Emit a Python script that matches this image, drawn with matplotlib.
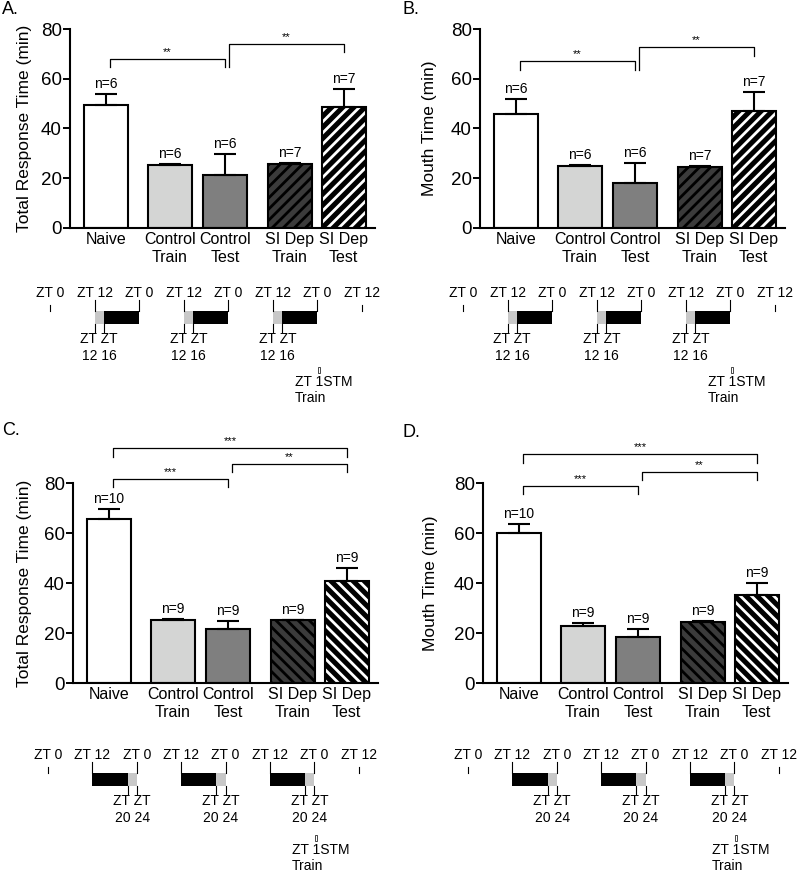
import numpy as np
import matplotlib.pyplot as plt
from matplotlib.patches import Rectangle

plt.rcParams['font.family'] = ['Liberation Sans', 'DejaVu Sans']
plt.rcParams['hatch.linewidth'] = 2.0

W, H = 800, 872

# Dados
groups = ["Naive", "Control\nTrain", "Control\nTest", "SI Dep\nTrain", "SI Dep\nTest"]
bar_pos = [0, 1.17, 2.17, 3.35, 4.33]

means_a = [49.3, 25.3, 21.5, 25.6, 48.6]
errs_a = [4.5, 0.3, 8.2, 0.4, 7.2]
means_b = [45.8, 24.9, 18.1, 24.6, 47.0]
errs_b = [5.9, 0.3, 8.0, 0.5, 7.5]
means_c = [65.6, 25.4, 21.8, 25.1, 40.8]
errs_c = [4.0, 0.3, 3.0, 0.3, 5.2]
means_d = [60.0, 22.7, 18.3, 24.3, 35.1]
errs_d = [3.7, 1.2, 3.2, 0.4, 5.0]

n_ab = ["n=6", "n=6", "n=6", "n=7", "n=7"]
n_cd = ["n=10", "n=9", "n=9", "n=9", "n=9"]

# (barra i, barra j, altura, fim esquerdo, fim direito, estrelas)
brackets_a = [(0, 2, 67.9, 64.6, 64.6, "**"), (2, 4, 73.9, 64.6, 70.7, "**")]
brackets_b = [(0, 2, 67.1, 63.5, 63.5, "**"), (2, 4, 72.7, 63.5, 69.1, "**")]
brackets_c = [(0, 2, 81.6, 78.4, 78.4, "***"), (2, 4, 87.6, 84.4, 84.4, "**"),
              (0, 4, 94.0, 90.4, 90.4, "***")]
brackets_d = [(0, 2, 78.8, 75.6, 75.6, "***"), (2, 4, 84.4, 81.2, 81.2, "**"),
              (0, 4, 91.6, 88.0, 88.0, "***")]

# Esquema temporal
zt_hours = [0, 12, 24, 36, 48, 60, 72, 84]
zt_labels = ["ZT 0", "ZT 12", "ZT 0", "ZT 12", "ZT 0", "ZT 12", "ZT 0", "ZT 12"]
dark_starts = [12, 36, 60]
light_w = 2.5   # largura desenhada do pulso (fora de escala no original)
stm_hour = 72.3

face_colors = ['white', '#d4d5d4', '#7f7f7f', '#3b3b3b', 'black']
hatch_colors = ['black', 'black', 'black', 'black', 'white']

fig = plt.figure(figsize=(W / 100, H / 100), dpi=100)


def add_ax(left, top, right, bottom):
    return fig.add_axes([left / W, 1 - bottom / H, (right - left) / W, (bottom - top) / H])


def bar_panel(ax, means, errs, ns, brackets, ylabel, hatch, lab_x):
    hatches = [None, None, None, hatch, hatch]
    for p, m, fc, hc, h in zip(bar_pos, means, face_colors, hatch_colors, hatches):
        ax.bar(p, m, 0.8, color=fc, edgecolor=hc, hatch=h, linewidth=0, zorder=2)
    ax.bar(bar_pos, means, 0.8, fill=False, edgecolor='black', linewidth=1.5, zorder=3)
    ax.errorbar(bar_pos, means, yerr=[np.zeros(5), errs], fmt='none', ecolor='black',
                elinewidth=1.5, capsize=8, capthick=1.5, zorder=4)
    for p, m, e, n in zip(bar_pos, means, errs, ns):
        ax.text(p, m + e + 1.2, n, ha='center', va='bottom', fontsize=10)
    for i, j, hgt, l0, r0, st in brackets:
        x1, x2 = bar_pos[i] + 0.08, bar_pos[j]
        ax.plot([x1, x1, x2, x2], [l0, hgt, hgt, r0], color='black', lw=0.9,
                clip_on=False, zorder=5)
        ax.text((x1 + x2) / 2, hgt + 0.8, st, ha='center', va='bottom', fontsize=8)
    ax.set_xlim(-0.65, 4.9)
    ax.set_ylim(0, 80)
    ax.set_yticks([0, 20, 40, 60, 80])
    ax.set_xticks(bar_pos)
    ax.set_xticklabels(groups, fontsize=11.5)
    ax.tick_params(axis='x', length=0, pad=3)
    ax.tick_params(axis='y', length=5, width=1.4, labelsize=13.5, pad=1)
    for s in ['top', 'right']:
        ax.spines[s].set_visible(False)
    for s in ['left', 'bottom']:
        ax.spines[s].set_linewidth(1.5)
    ax.set_ylabel(ylabel, fontsize=12.5)
    ax.yaxis.set_label_coords(lab_x, 0.5)


def schedule(ax, x0, scale, y0, gray_first, stm_dy):
    def hx(h):
        return x0 + scale * h
    kw = dict(color='black', lw=0.8)
    for h, lab in zip(zt_hours, zt_labels):
        ax.text(hx(h), y0, lab, ha='center', va='center', fontsize=10)
    for h in [zt_hours[0], zt_hours[-1]]:
        ax.plot([hx(h)] * 2, [y0 + 12, y0 + 18], **kw)
    for s in dark_starts:
        e = s + 12
        if gray_first:
            segs = [(s, s + light_w, '#c8c8c8'), (s + light_w, e, 'black')]
            low = [s, s + light_w]
            lab = "ZT ZT\n12 16"
        else:
            segs = [(s, e - light_w, 'black'), (e - light_w, e, '#c8c8c8')]
            low = [e - light_w, e]
            lab = "ZT ZT\n20 24"
        for a, b, c in segs:
            ax.add_patch(Rectangle((hx(a), y0 + 18), hx(b) - hx(a), 13,
                                   facecolor=c, edgecolor='none'))
        for h in [s, e]:
            ax.plot([hx(h)] * 2, [y0 + 7, y0 + 18], **kw)
        for h in low:
            ax.plot([hx(h)] * 2, [y0 + 31, y0 + 39], **kw)
        ax.text(hx(sum(low) / 2), y0 + 39, lab, ha='center', va='top',
                fontsize=10, linespacing=1.25)
    mx = hx(stm_hour)
    ax.add_patch(Rectangle((mx - 1, y0 + 74 + stm_dy), 2, 6, facecolor='none',
                           edgecolor='black', lw=0.5))
    ax.text(mx - 24, y0 + 89 + stm_dy, "ZT 1STM", ha='left', va='center', fontsize=10)
    ax.text(mx - 24, y0 + 105 + stm_dy, "Train", ha='left', va='center', fontsize=10)


ax_a = add_ax(70, 29, 375, 228)
bar_panel(ax_a, means_a, errs_a, n_ab, brackets_a, "Total Response Time (min)", '///', -0.125)
ax_b = add_ax(480, 29, 785, 228)
bar_panel(ax_b, means_b, errs_b, n_ab, brackets_b, "Mouth Time (min)", '///', -0.14)
ax_c = add_ax(73, 483, 378, 683)
bar_panel(ax_c, means_c, errs_c, n_cd, brackets_c, "Total Response Time (min)", '\\\\\\', -0.135)
ax_d = add_ax(483, 483, 788, 683)
bar_panel(ax_d, means_d, errs_d, n_cd, brackets_d, "Mouth Time (min)", '\\\\\\', -0.148)

# camada de sobreposição em pixels para o esquema
ov = fig.add_axes([0, 0, 1, 1], zorder=-1)
ov.set_xlim(0, W)
ov.set_ylim(H, 0)
ov.axis('off')
schedule(ov, 50, 3.714, 293, True, 0)
schedule(ov, 463, 3.714, 293, True, 0)
schedule(ov, 48, 3.70, 755, False, 6)
schedule(ov, 468, 3.70, 755, False, 6)

for lab, x, y in [("A.", 2, 9), ("B.", 402, 9), ("C.", 2, 430), ("D.", 402, 432)]:
    ov.text(x, y, lab, ha='left', va='center', fontsize=13)

fig.savefig("out.png", dpi=100)
